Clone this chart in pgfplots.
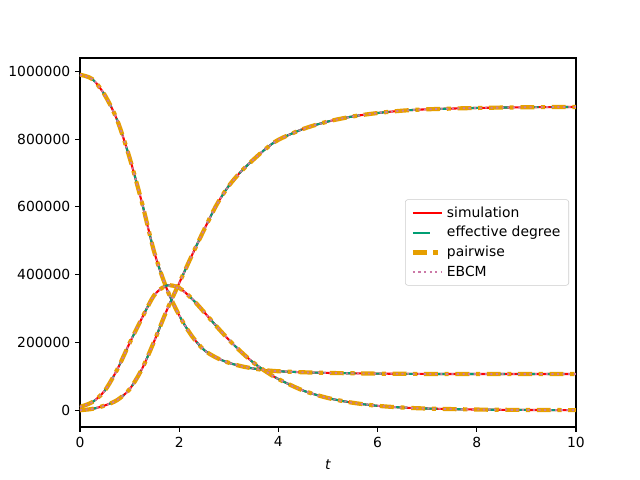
\documentclass[border=0pt]{standalone}
\usepackage{pgfplots}
\pgfplotsset{compat=1.18}
\usepackage{pgfplotstable}
\usepackage{fontspec}
\setmainfont{DejaVu Sans}
\definecolor{simred}{HTML}{FF0000}
\definecolor{edteal}{HTML}{009E73}
\definecolor{pworange}{HTML}{E69F00}
\definecolor{ebpink}{HTML}{CC79A7}
\pgfplotstableread{
t S I R
0 990000 10000 0
0.25 977000 24000 4000
0.5 930000 58000 14000
0.75 856000 120000 30000
1.0 745000 198000 62000
1.25 612000 272000 122000
1.5 465000 340000 205000
1.75 358000 368000 295000
2.0 280000 361000 375000
2.25 220000 330000 455000
2.5 178000 290000 532000
2.75 155000 248000 605000
3.0 140000 208000 662000
3.25 130000 172000 705000
3.5 123000 140000 740000
3.75 118000 114000 772000
4.0 115000 92000 798000
4.5 112000 58000 830000
5.0 110000 36000 852000
5.5 109000 22000 867000
6.0 108000 13000 877000
6.5 107500 8000 884000
7.0 107000 5000 888000
8.0 107000 2000 892000
9.0 107000 800 894000
10.0 107000 300 895000
}\data
\begin{document}
\fontsize{10}{12}\selectfont
\begin{tikzpicture}
\begin{axis}[
  scale only axis, width=357.1pt, height=265.7pt,
  xmin=0, xmax=10, ymin=-49500, ymax=1039500,
  xtick={0,2,4,6,8,10},
  ytick={0,200000,400000,600000,800000,1000000},
  scaled y ticks=false,
  /pgf/number format/.cd, fixed, 1000 sep={}, assume math mode=true, /pgfplots/.cd,
  tick align=outside, major tick length=3.5pt,
  tick style={black, line width=0.8pt},
  xtick pos=bottom, ytick pos=left,
  axis line style={line width=0.8pt},
  tick label style={font=\fontsize{10}{12}\selectfont},
  xlabel={\textit{t}}, xlabel style={font=\fontsize{10}{12}\selectfont, yshift=-2pt},
  legend style={at={(0.986,0.5)}, anchor=east, draw=black!20, rounded corners=2pt,
    fill=white, fill opacity=0.8, text opacity=1, font=\fontsize{10}{12}\selectfont,
    row sep=1.2pt, inner ysep=3pt, inner xsep=4pt},
  legend cell align=left,
  legend image code/.code={\draw[#1] (0pt,0pt) -- (21pt,0pt);},
]
\addplot[simred, line width=1.5pt, smooth] table[x=t,y=S] {\data};
\addlegendentry{simulation}
\addplot[edteal, line width=1.5pt, dash pattern=on 12.5pt off 9pt, smooth] table[x=t,y=S] {\data};
\addlegendentry{effective degree}
\addplot[pworange, line width=3pt, dash pattern=on 10pt off 4.8pt on 3pt off 4.8pt, smooth] table[x=t,y=S] {\data};
\addlegendentry{pairwise}
\addplot[ebpink, line width=1.3pt, dash pattern=on 1.5pt off 2.5pt, smooth] table[x=t,y=S] {\data};
\addlegendentry{EBCM}
\addplot[simred, line width=1.5pt, smooth, forget plot] table[x=t,y=I] {\data};
\addplot[edteal, line width=1.5pt, dash pattern=on 12.5pt off 9pt, smooth, forget plot] table[x=t,y=I] {\data};
\addplot[pworange, line width=3pt, dash pattern=on 10pt off 4.8pt on 3pt off 4.8pt, smooth, forget plot] table[x=t,y=I] {\data};
\addplot[ebpink, line width=1.3pt, dash pattern=on 1.5pt off 2.5pt, smooth, forget plot] table[x=t,y=I] {\data};
\addplot[simred, line width=1.5pt, smooth, forget plot] table[x=t,y=R] {\data};
\addplot[edteal, line width=1.5pt, dash pattern=on 12.5pt off 9pt, smooth, forget plot] table[x=t,y=R] {\data};
\addplot[pworange, line width=3pt, dash pattern=on 10pt off 4.8pt on 3pt off 4.8pt, smooth, forget plot] table[x=t,y=R] {\data};
\addplot[ebpink, line width=1.3pt, dash pattern=on 1.5pt off 2.5pt, smooth, forget plot] table[x=t,y=R] {\data};
\end{axis}
\path (current axis.south west) ++(-57.6pt,-38.16pt) rectangle ++(460.8pt,345.6pt);
\end{tikzpicture}
\end{document}
